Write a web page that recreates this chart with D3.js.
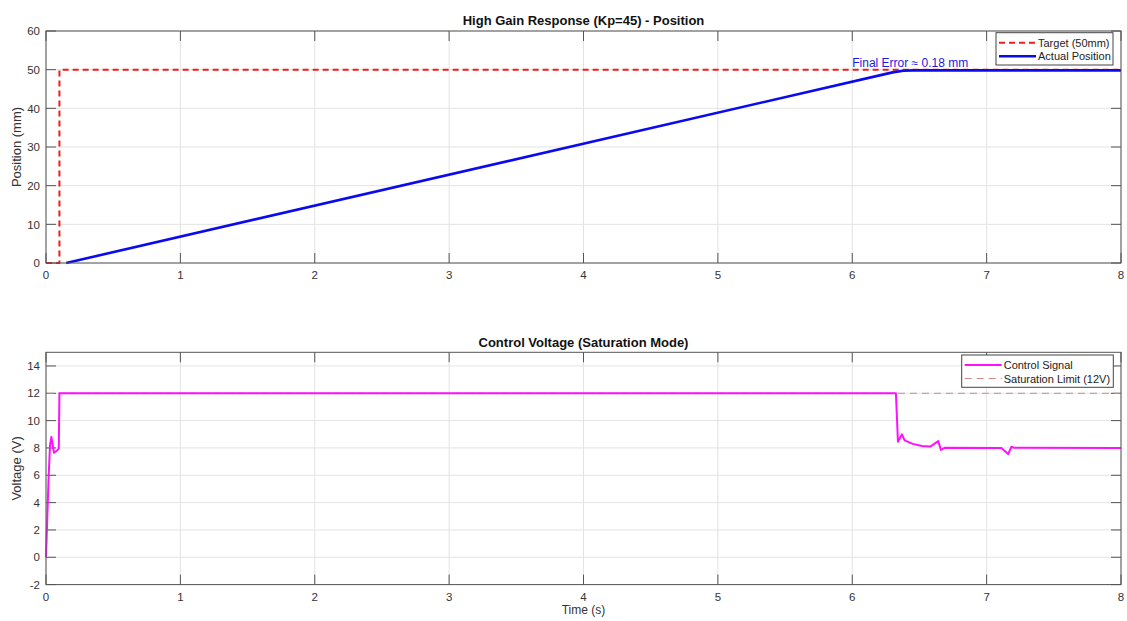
<!DOCTYPE html>
<html><head><meta charset="utf-8">
<script src="https://cdn.jsdelivr.net/npm/d3@7"></script>
<style>body{margin:0;background:#fff}svg{display:block}text{font-family:"Liberation Sans",Arial,sans-serif}</style>
</head><body>
<svg id="c" width="1127" height="621"></svg>
<script>
// ---- data ----
const targetT = [0, 0.1, 0.1, 8];
const targetV = [0, 0, 50, 50];
const posT = [0.15, 6.3, 6.38, 6.45, 8];
const posV = [0, 49.3, 49.72, 49.82, 49.82];
const ctrlT = [0, 0.01, 0.02, 0.03, 0.04, 0.05, 0.06, 0.08, 0.095, 0.1, 6.325, 6.34, 6.37, 6.39, 6.45, 6.52, 6.58, 6.64, 6.66, 6.69, 7.11, 7.16, 7.185, 7.2, 8];
const ctrlV = [0, 3, 6, 8.2, 8.8, 8.2, 7.65, 7.8, 7.95, 12, 12, 8.46, 9.0, 8.55, 8.3, 8.15, 8.1, 8.5, 7.85, 8.02, 8.0, 7.55, 8.09, 8.02, 8.0];
const satT = [0, 8];
const satV = [12, 12];
const xTicks = [0, 1, 2, 3, 4, 5, 6, 7, 8];
const posTicks = [0, 10, 20, 30, 40, 50, 60];
const voltTicks = [-2, 0, 2, 4, 6, 8, 10, 12, 14];

const svg = d3.select("#c");
const L = 46, R = 1121;
const x = d3.scaleLinear().domain([0, 8]).range([L, R]);

function panel(top, bottom, ydom, yticks, title, titleY, ylabel) {
  const y = d3.scaleLinear().domain(ydom).range([bottom, top]);
  const g = svg.append("g");
  // grid
  g.selectAll(".gx").data(xTicks).enter().append("line")
    .attr("x1", d => x(d)).attr("x2", d => x(d)).attr("y1", top).attr("y2", bottom)
    .attr("stroke", "#e3e3e3").attr("stroke-width", 1);
  g.selectAll(".gy").data(yticks).enter().append("line")
    .attr("x1", L).attr("x2", R).attr("y1", d => y(d)).attr("y2", d => y(d))
    .attr("stroke", "#e3e3e3").attr("stroke-width", 1);
  // ticks (inward, all four sides)
  const tl = 10, tc = "#555";
  xTicks.forEach(d => {
    g.append("line").attr("x1", x(d)).attr("x2", x(d)).attr("y1", bottom).attr("y2", bottom - tl).attr("stroke", tc);
    g.append("line").attr("x1", x(d)).attr("x2", x(d)).attr("y1", top).attr("y2", top + tl).attr("stroke", tc);
  });
  yticks.forEach(d => {
    g.append("line").attr("x1", L).attr("x2", L + tl).attr("y1", y(d)).attr("y2", y(d)).attr("stroke", tc);
    g.append("line").attr("x1", R).attr("x2", R - tl).attr("y1", y(d)).attr("y2", y(d)).attr("stroke", tc);
  });
  // tick labels
  g.selectAll(".xl").data(xTicks).enter().append("text")
    .attr("x", d => x(d)).attr("y", bottom + 16).attr("text-anchor", "middle")
    .attr("font-size", 11.5).attr("fill", "#333").text(d => d);
  g.selectAll(".yl").data(yticks).enter().append("text")
    .attr("x", L - 6).attr("y", d => y(d) + 4.2).attr("text-anchor", "end")
    .attr("font-size", 11.5).attr("fill", "#333").text(d => d);
  // title
  g.append("text").attr("x", (L + R) / 2).attr("y", titleY).attr("text-anchor", "middle")
    .attr("font-size", 13).attr("font-weight", "bold").attr("fill", "#111").text(title);
  g.append("text").attr("transform", `translate(21,${(top + bottom) / 2}) rotate(-90)`)
    .attr("text-anchor", "middle").attr("font-size", 13).attr("fill", "#333").text(ylabel);
  return {g, y, top, bottom};
}

const p1 = panel(31, 263, [0, 60], posTicks, "High Gain Response (Kp=45) - Position", 25, "Position (mm)");
const p2 = panel(352.3, 584.6, [-2, 15], voltTicks, "Control Voltage (Saturation Mode)", 346.5, "Voltage (V)");

function series(p, ts, vs, color, width, dash) {
  const data = ts.map((t, i) => [t, vs[i]]);
  p.g.append("path").datum(data)
    .attr("d", d3.line().x(d => x(d[0])).y(d => p.y(d[1])))
    .attr("fill", "none").attr("stroke", color).attr("stroke-width", width)
    .attr("stroke-dasharray", dash || null).attr("stroke-linejoin", "round");
}

series(p1, targetT, targetV, "#ee1c1c", 2, "6,4");
series(p1, posT, posV, "#0a0af0", 2.6);
series(p2, satT, satV, "#d08a8a", 1, "7,5");
series(p2, ctrlT, ctrlV, "#ff10ff", 2);

// annotation
p1.g.append("text").attr("x", x(6.0)).attr("y", p1.y(51.9) + 4.3)
  .attr("font-size", 12).attr("fill", "#1a1adf").text("Final Error \u2248 0.18 mm");

// box outlines
[p1, p2].forEach(p => {
  p.g.append("rect").attr("x", L).attr("y", p.top).attr("width", R - L).attr("height", p.bottom - p.top)
    .attr("fill", "none").attr("stroke", "#555").attr("stroke-width", 1);
});

// legends
function legend(p, bx, by, bw, bh, items) {
  const g = p.g.append("g");
  g.append("rect").attr("x", bx).attr("y", by).attr("width", bw).attr("height", bh)
    .attr("fill", "#fff").attr("stroke", "#444").attr("stroke-width", 1);
  items.forEach((it, i) => {
    const yy = by + 10 + i * 13.5;
    g.append("line").attr("x1", bx + 3).attr("x2", bx + 40).attr("y1", yy).attr("y2", yy)
      .attr("stroke", it.color).attr("stroke-width", it.w).attr("stroke-dasharray", it.dash || null);
    g.append("text").attr("x", bx + 42).attr("y", yy + 4).attr("font-size", 11).attr("fill", "#222").text(it.label);
  });
}
legend(p1, 996, 32.7, 117, 32.3, [
  {label: "Target (50mm)", color: "#ee1c1c", w: 2, dash: "6,4"},
  {label: "Actual Position", color: "#0a0af0", w: 2.6}
]);
legend(p2, 961.7, 355, 151.6, 32.3, [
  {label: "Control Signal", color: "#ff10ff", w: 2},
  {label: "Saturation Limit (12V)", color: "#d08a8a", w: 1, dash: "7,5"}
]);

svg.append("text").attr("x", (L + R) / 2).attr("y", 614).attr("text-anchor", "middle")
  .attr("font-size", 12).attr("fill", "#333").text("Time (s)");
</script>
</body></html>
